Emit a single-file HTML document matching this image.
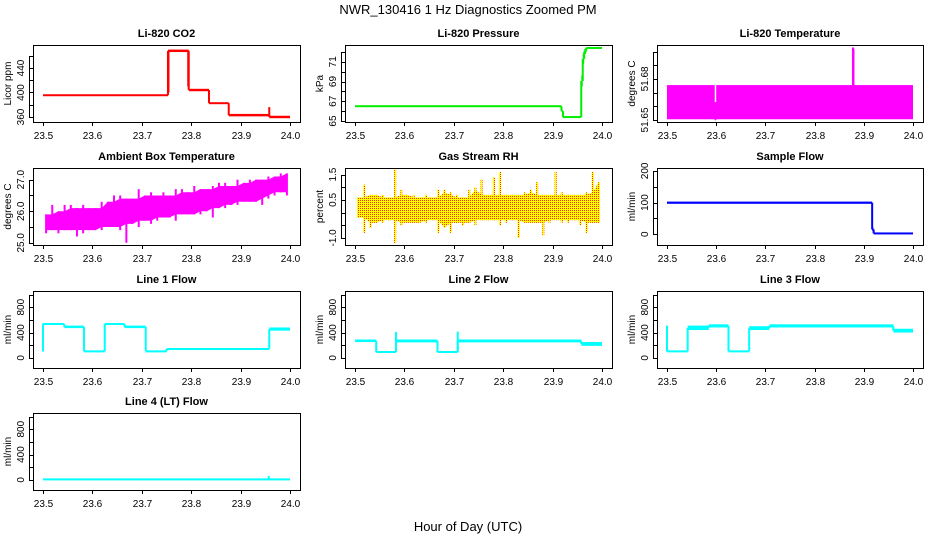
<!DOCTYPE html>
<html><head><meta charset="utf-8"><style>
html,body{margin:0;padding:0;background:#fff;}
svg{display:block;font-family:"Liberation Sans",sans-serif;}
</style></head><body>
<svg id="chart" width="936" height="540" viewBox="0 0 936 540" xmlns="http://www.w3.org/2000/svg">
<defs>
<pattern id="rhpat" width="2" height="2" patternUnits="userSpaceOnUse">
<rect width="2" height="2" fill="#ffff00"/><rect width="1" height="1" fill="#ff3000"/>
</pattern>
</defs>
<text x="468" y="14" text-anchor="middle" font-size="13">NWR_130416  1 Hz Diagnostics Zoomed PM</text>
<text x="468" y="531" text-anchor="middle" font-size="13">Hour of Day (UTC)</text>
</svg>
<script>
// ---- data ----
const xTicks = [23.5, 23.6, 23.7, 23.8, 23.9, 24.0];
const xTickLabels = ["23.5", "23.6", "23.7", "23.8", "23.9", "24.0"];

const co2Edges = [23.5, 23.753, 23.795, 23.836, 23.876, 23.958, 24.0];
const co2Lo = [394, 466, 402, 381, 361, 358];
const co2Hi = [397, 470, 406, 384, 365, 362];
const co2SpikeT = [23.958, 23.754, 23.794];
const co2SpikeLo = [360, 400, 410];
const co2SpikeHi = [376, 466, 466];

const presEdges = [23.5, 23.918, 23.921, 23.958, 23.961, 23.964, 23.968, 24.0];
const presLo = [66.4, 65.9, 65.3, 68.5, 70.8, 71.8, 72.3];
const presHi = [66.6, 66.1, 65.5, 69.6, 71.8, 72.3, 72.5];

const tempEdges = [23.5, 23.597, 23.600, 24.0];
const tempLo = [51.6505, 51.6505, 51.6505];
const tempHi = [51.6755, 51.6505, 51.6755];
const tempSpikeT = [23.878, 23.879];
const tempSpikeLo = [51.675, 51.675];
const tempSpikeHi = [51.703, 51.702];

const ambHi = [25.9,26.2,26.0,26.2,26.2,26.1,26.2,26.1,26.1,26.3,26.3,26.5,26.5,26.4,26.4,26.7,26.5,26.6,26.5,26.6,26.5,26.7,26.7,26.6,26.8,26.7,26.7,26.8,26.9,26.9,26.8,27.0,26.9,27.0,27.0,27.0,27.1,27.1,27.2,27.2];
const ambLo = [25.3,25.4,25.3,25.4,25.4,25.2,25.3,25.4,25.4,25.4,25.5,25.5,25.4,25.0,25.6,25.5,25.7,25.6,25.7,25.8,25.8,25.7,25.9,25.9,25.9,25.9,26.0,25.8,26.1,26.1,26.2,26.2,26.3,26.3,26.3,26.2,26.4,26.5,26.6,26.5];

const rhHi = [0.6,1.1,0.7,0.7,0.7,0.6,1.7,0.9,0.7,0.7,0.6,0.7,0.6,0.9,0.9,0.8,0.7,0.6,0.9,1.0,1.3,0.7,1.4,1.6,0.7,0.7,0.7,0.8,0.9,1.2,0.7,0.7,1.6,0.8,0.7,0.7,0.7,0.8,1.6,1.2];
const rhLo = [-0.2,-0.8,-0.6,-0.4,-0.4,-0.3,-1.2,-0.5,-0.4,-0.4,-0.4,-0.4,-0.3,-0.8,-0.6,-0.8,-0.4,-0.5,-0.4,-0.5,-0.3,-0.3,-0.3,-0.5,-0.4,-0.3,-1.0,-0.4,-0.4,-0.4,-0.9,-0.4,-0.3,-0.4,-0.4,-0.3,-0.5,-0.8,-0.4,-0.4];

const sfEdges = [23.5, 23.917, 23.92, 24.0];
const sfLo = [96, 10, 0];
const sfHi = [103, 20, 5];

const l1Edges = [23.5, 23.543, 23.583, 23.625, 23.665, 23.708, 23.75, 23.958, 24.0];
const l1Lo = [520, 470, 95, 520, 470, 95, 130, 430];
const l1Hi = [550, 510, 110, 550, 510, 110, 150, 480];
const l1SpikeT = [23.5];
const l1SpikeLo = [100];
const l1SpikeHi = [540];

const l2Edges = [23.5, 23.543, 23.583, 23.667, 23.708, 23.958, 24.0];
const l2Lo = [250, 85, 245, 85, 245, 190];
const l2Hi = [290, 100, 290, 100, 290, 250];
const l2SpikeT = [23.583, 23.708];
const l2SpikeLo = [100, 100];
const l2SpikeHi = [410, 415];

const l3Edges = [23.5, 23.542, 23.585, 23.625, 23.667, 23.708, 23.96, 24.0];
const l3Lo = [95, 440, 480, 95, 440, 480, 400];
const l3Hi = [110, 510, 530, 110, 500, 530, 460];
const l3SpikeT = [23.5];
const l3SpikeLo = [100];
const l3SpikeHi = [510];

const l4Edges = [23.5, 24.0];
const l4Lo = [0];
const l4Hi = [15];
const l4SpikeT = [23.957];
const l4SpikeLo = [0];
const l4SpikeHi = [60];

// ---- layout ----
const svg = document.getElementById('chart');
const NS = 'http://www.w3.org/2000/svg';
const cols = [[33,300],[345,612],[657,923]];
const rows = [45,168,291,413];
function el(tag, attrs, parent){
  const e = document.createElementNS(NS, tag);
  for (const k in attrs) e.setAttribute(k, attrs[k]);
  (parent||svg).appendChild(e);
  return e;
}
function makePanel(c, r, ylim, ticks, labels, ylab, title, key){
  const [xl, xr] = cols[c];
  const yt = rows[r], yb = yt + 77;
  const g = el('g', {});
  
  
  const xs = v => (xl + 10) + (v - 23.5) / 0.5 * (xr - xl - 20);
  const ys = v => yb - (v - ylim[0]) / (ylim[1] - ylim[0]) * 77;
  const t = el('text', {x:(xl+xr)/2, y:yt-8, 'text-anchor':'middle', 'font-size':11, 'font-weight':'bold'}, g);
  t.textContent = title;
  
  
  const box = el('rect', {x:xl+0.5, y:yt+0.5, width:xr-xl, height:77, fill:'none', stroke:'#000', 'stroke-width':1}, g);
  
  
  xTicks.forEach((v,i) => {
    const x = Math.round(xs(v)) + 0.5;
    el('line', {x1:x, x2:x, y1:yb, y2:yb+4, stroke:'#000'}, g);
    const tl = el('text', {x:x, y:yb+17, 'text-anchor':'middle', 'font-size':10}, g);
    tl.textContent = xTickLabels[i];
    
    
  });
  ticks.forEach(v => {
    const y = Math.round(ys(v)) + 0.5;
    el('line', {x1:xl-4, x2:xl, y1:y, y2:y, stroke:'#000'}, g);
  });
  el('line', {x1:xl-4+0.5, x2:xl-4+0.5, y1:Math.round(ys(ticks[0])), y2:Math.round(ys(ticks[ticks.length-1])), stroke:'#000'}, g);
  labels.forEach(([v, s]) => {
    const y = ys(v);
    const tl = el('text', {x:0, y:0, 'text-anchor':'middle', 'font-size':10, transform:`translate(${xl-9},${y}) rotate(-90)`}, g);
    tl.textContent = s;
    
    
  });
  const yl = el('text', {x:0, y:0, 'text-anchor':'middle', 'font-size':10, transform:`translate(${xl-22},${(yt+yb)/2}) rotate(-90)`}, g);
  yl.textContent = ylab;
  
  
  return {g, xs, ys};
}
function drawSteps(p, edges, lo, hi, color, key){
  for (let i = 0; i < lo.length; i++){
    const x1 = p.xs(edges[i]), x2 = p.xs(edges[i+1]);
    let y1 = p.ys(hi[i]), y2 = p.ys(lo[i]);
    if (y2 - y1 < 2) { const m=(y1+y2)/2; y1=m-1; y2=m+1; }
    const r = el('rect', {x:x1, y:y1, width:Math.max(x2-x1,1), height:y2-y1, fill:color}, p.g);
    
    
    if (i > 0){
      const ya = p.ys((lo[i-1]+hi[i-1])/2), yb2 = p.ys((lo[i]+hi[i])/2);
      el('line', {x1:x1, x2:x1, y1:ya, y2:yb2, stroke:color, 'stroke-width':2}, p.g);
    }
  }
}
function drawSpikes(p, ts, lo, hi, color, key){
  ts.forEach((t,i) => {
    const l = el('line', {x1:p.xs(t), x2:p.xs(t), y1:p.ys(lo[i]), y2:p.ys(hi[i]), stroke:color, 'stroke-width':2}, p.g);
    
    
  });
}
function drawBand(p, hiArr, loArr, fill, key){
  const n = hiArr.length, step = 0.5 / n;
  const cHi = hiArr.map((v,i) => Math.min(v, hiArr[Math.max(i-1,0)], hiArr[Math.min(i+1,n-1)]));
  const cLo = loArr.map((v,i) => Math.max(v, loArr[Math.max(i-1,0)], loArr[Math.min(i+1,n-1)]));
  const pts = [];
  cHi.forEach((v,i) => pts.push([p.xs(23.5+(i+0.5)*step), p.ys(v)]));
  for (let i = n-1; i >= 0; i--) pts.push([p.xs(23.5+(i+0.5)*step), p.ys(cLo[i])]);
  const poly = el('polygon', {points: pts.map(q=>q.join(',')).join(' '), fill: fill}, p.g);
  
  
  hiArr.forEach((v,i) => {
    const x = p.xs(23.5+(i+0.5)*step);
    const l = el('rect', {x:x-1, y:p.ys(v), width:2, height:p.ys(loArr[i])-p.ys(v), fill:fill}, p.g);
    
    
  });
}
const flowTicks = [0,200,400,600,800,1000];
const flowLabels = [[0,'0'],[400,'400'],[800,'800']];

let p;
p = makePanel(0,0,[351.8,477.5],[360,380,400,420,440,460],[[360,'360'],[400,'400'],[440,'440']],'Licor ppm','Li-820 CO2','co2');
drawSteps(p, co2Edges, co2Lo, co2Hi, '#ff0000', 'co2'); drawSpikes(p, co2SpikeT, co2SpikeLo, co2SpikeHi, '#ff0000', 'co2');

p = makePanel(1,0,[64.9,72.7],[65,66,67,68,69,70,71,72],[[65,'65'],[67,'67'],[69,'69'],[71,'71']],'kPa','Li-820 Pressure','pressure');
drawSteps(p, presEdges, presLo, presHi, '#00ee00', 'pressure');

p = makePanel(2,0,[51.6485,51.7048],[51.65,51.66,51.67,51.68,51.69,51.70],[[51.65,'51.65'],[51.68,'51.68']],'degrees C','Li-820 Temperature','li820-temp');
drawSteps(p, tempEdges, tempLo, tempHi, '#ff00ff', 'li820-temp'); drawSpikes(p, tempSpikeT, tempSpikeLo, tempSpikeHi, '#ff00ff', 'li820-temp');

p = makePanel(0,1,[24.93,27.37],[25,25.5,26,26.5,27],[[25,'25.0'],[26,'26.0'],[27,'27.0']],'degrees C','Ambient Box Temperature','ambient-temp');
drawBand(p, ambHi, ambLo, '#ff00ff', 'ambient-temp');

p = makePanel(1,1,[-1.28,1.76],[-1,-0.5,0,0.5,1,1.5],[[-1,'-1.0'],[0.5,'0.5'],[1.5,'1.5']],'percent','Gas Stream RH','rh');
drawBand(p, rhHi, rhLo, 'url(#rhpat)', 'rh');

p = makePanel(2,1,[-34,209],[0,50,100,150,200],[[0,'0'],[100,'100'],[200,'200']],'ml/min','Sample Flow','sample-flow');
drawSteps(p, sfEdges, sfLo, sfHi, '#0000ff', 'sample-flow');

p = makePanel(0,2,[-160,1056],flowTicks,flowLabels,'ml/min','Line 1 Flow','line1-flow');
drawSteps(p, l1Edges, l1Lo, l1Hi, '#00ffff', 'line1-flow'); drawSpikes(p, l1SpikeT, l1SpikeLo, l1SpikeHi, '#00ffff', 'line1-flow');

p = makePanel(1,2,[-160,1056],flowTicks,flowLabels,'ml/min','Line 2 Flow','line2-flow');
drawSteps(p, l2Edges, l2Lo, l2Hi, '#00ffff', 'line2-flow'); drawSpikes(p, l2SpikeT, l2SpikeLo, l2SpikeHi, '#00ffff', 'line2-flow');

p = makePanel(2,2,[-160,1056],flowTicks,flowLabels,'ml/min','Line 3 Flow','line3-flow');
drawSteps(p, l3Edges, l3Lo, l3Hi, '#00ffff', 'line3-flow'); drawSpikes(p, l3SpikeT, l3SpikeLo, l3SpikeHi, '#00ffff', 'line3-flow');

p = makePanel(0,3,[-160,1056],flowTicks,flowLabels,'ml/min','Line 4 (LT) Flow','line4-flow');
drawSteps(p, l4Edges, l4Lo, l4Hi, '#00ffff', 'line4-flow'); drawSpikes(p, l4SpikeT, l4SpikeLo, l4SpikeHi, '#00ffff', 'line4-flow');
</script>
</body></html>
